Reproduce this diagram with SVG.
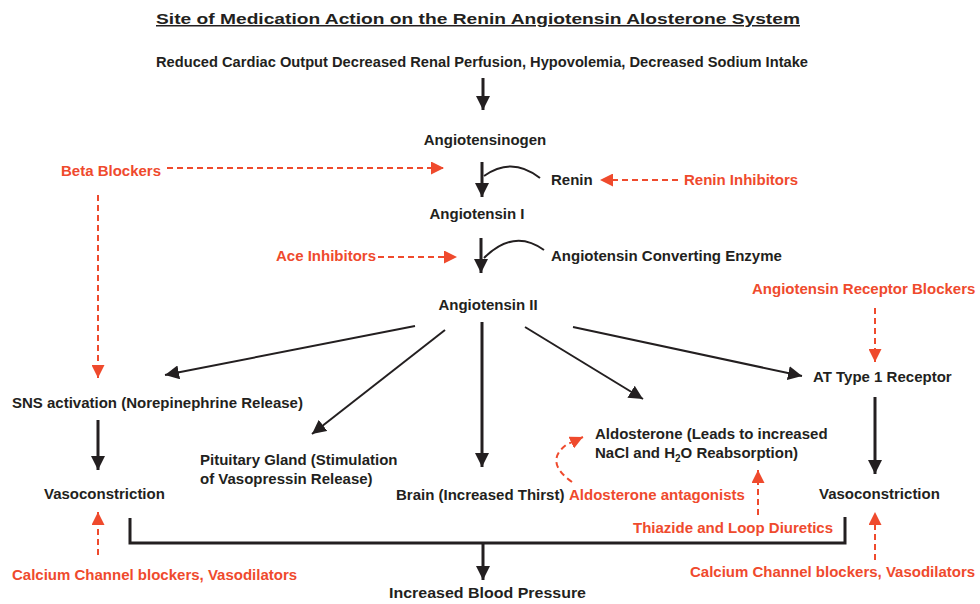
<svg xmlns="http://www.w3.org/2000/svg" width="980" height="604" viewBox="0 0 980 604">
<style>
text{font-family:"Liberation Sans",Arial,sans-serif;font-weight:bold;font-size:15px;fill:#231f20}
text.r{fill:#ef4a2d}
text.n{font-family:"Liberation Sans Narrow","Liberation Sans",Arial,sans-serif}
.k{stroke:#231f20;stroke-width:2;fill:none}
.kt{stroke:#231f20;stroke-width:3;fill:none}
.d{stroke:#ef4a2d;stroke-width:2;fill:none;stroke-dasharray:6 4}
</style>
<defs>
<marker id="ak" viewBox="0 0 14 14" refX="14" refY="7" markerWidth="14" markerHeight="14" markerUnits="userSpaceOnUse" orient="auto"><path d="M0,0 L14,7 L0,14 z" fill="#231f20"/></marker>
<marker id="ar" viewBox="0 0 14 14" refX="14" refY="7" markerWidth="13" markerHeight="13" markerUnits="userSpaceOnUse" orient="auto"><path d="M0,0 L14,7 L0,14 z" fill="#ef4a2d"/></marker>
</defs>
<g id="title"><text class="n" x="156" y="24" font-size="21" textLength="644" lengthAdjust="spacingAndGlyphs" text-decoration="underline">Site of Medication Action on the Renin Angiotensin Alosterone System</text></g>
<g id="causes"><text class="n" x="156" y="67" font-size="15.5" textLength="652" lengthAdjust="spacingAndGlyphs">Reduced Cardiac Output Decreased Renal Perfusion, Hypovolemia, Decreased Sodium Intake</text></g>
<g id="angiotensinogen"><text x="485" y="145" text-anchor="middle">Angiotensinogen</text></g>
<g id="renin"><text x="551" y="185">Renin</text></g>
<g id="angiotensin1"><text x="477" y="219" text-anchor="middle">Angiotensin I</text></g>
<g id="ace"><text x="551" y="261">Angiotensin Converting Enzyme</text></g>
<g id="angiotensin2"><text x="488" y="310" text-anchor="middle">Angiotensin II</text></g>
<g id="at1"><text x="813" y="382">AT Type 1 Receptor</text></g>
<g id="sns"><text x="12" y="408">SNS activation (Norepinephrine Release)</text></g>
<g id="pituitary"><text x="200" y="465">Pituitary Gland (Stimulation</text><text x="200" y="484">of Vasopressin Release)</text></g>
<g id="brain"><text x="396" y="500">Brain (Increased Thirst)</text></g>
<g id="aldosterone"><text x="595" y="439">Aldosterone (Leads to increased</text><text x="595" y="458">NaCl and H<tspan font-size="10" dy="4">2</tspan><tspan dy="-4">O Reabsorption)</tspan></text></g>
<g id="vaso-left"><text x="44" y="499">Vasoconstriction</text></g>
<g id="vaso-right"><text x="819" y="499">Vasoconstriction</text></g>
<g id="bp"><text class="n" x="389" y="598" font-size="16.5" textLength="197" lengthAdjust="spacingAndGlyphs">Increased Blood Pressure</text></g>
<g id="beta"><text class="r" x="61" y="176">Beta Blockers</text></g>
<g id="renin-inh"><text class="r" x="684" y="185">Renin Inhibitors</text></g>
<g id="ace-inh"><text class="r" x="276" y="261">Ace Inhibitors</text></g>
<g id="arb"><text class="r" x="752" y="294">Angiotensin Receptor Blockers</text></g>
<g id="aldo-ant"><text class="r" x="569" y="500">Aldosterone antagonists</text></g>
<g id="thiazide"><text class="r" x="633" y="533">Thiazide and Loop Diuretics</text></g>
<g id="ccb-left"><text class="r" x="12" y="580">Calcium Channel blockers, Vasodilators</text></g>
<g id="ccb-right"><text class="r" x="690" y="577">Calcium Channel blockers, Vasodilators</text></g>
<g id="connectors">
<line class="kt" x1="483" y1="78" x2="483" y2="110" marker-end="url(#ak)"/>
<line class="kt" x1="482" y1="162" x2="482" y2="197" marker-end="url(#ak)"/>
<path class="k" d="M540,178 Q512,156 484,176"/>
<line class="kt" x1="481" y1="238" x2="481" y2="273" marker-end="url(#ak)"/>
<path class="k" d="M544,250 Q514,228 484,258"/>
<line class="k" x1="415" y1="326" x2="165" y2="375" marker-end="url(#ak)"/>
<line class="k" x1="445" y1="330" x2="312" y2="434" marker-end="url(#ak)"/>
<line class="kt" x1="482" y1="322" x2="482" y2="467" marker-end="url(#ak)"/>
<line class="k" x1="525" y1="327" x2="643" y2="399" marker-end="url(#ak)"/>
<line class="k" x1="573" y1="327" x2="802" y2="376" marker-end="url(#ak)"/>
<line class="kt" x1="98" y1="420" x2="98" y2="470" marker-end="url(#ak)"/>
<line class="kt" x1="875" y1="397" x2="875" y2="474" marker-end="url(#ak)"/>
<polyline class="kt" points="130,518 130,543 845,543 845,517"/>
<line class="kt" x1="483" y1="543" x2="483" y2="580" marker-end="url(#ak)"/>
<line class="d" x1="167" y1="168" x2="444" y2="168" marker-end="url(#ar)"/>
<line class="d" x1="98" y1="195" x2="98" y2="378" marker-end="url(#ar)"/>
<line class="d" x1="678" y1="180" x2="600" y2="180" marker-end="url(#ar)"/>
<line class="d" x1="378" y1="257" x2="457" y2="257" marker-end="url(#ar)"/>
<line class="d" x1="875" y1="308" x2="875" y2="362" marker-end="url(#ar)"/>
<path class="d" d="M572,482 Q544,462 566,445 L583,437" marker-end="url(#ar)"/>
<line class="d" x1="758" y1="515" x2="758" y2="470" marker-end="url(#ar)"/>
<line class="d" x1="98" y1="555" x2="98" y2="512" marker-end="url(#ar)"/>
<line class="d" x1="875" y1="560" x2="875" y2="512" marker-end="url(#ar)"/>
</g>
</svg>
